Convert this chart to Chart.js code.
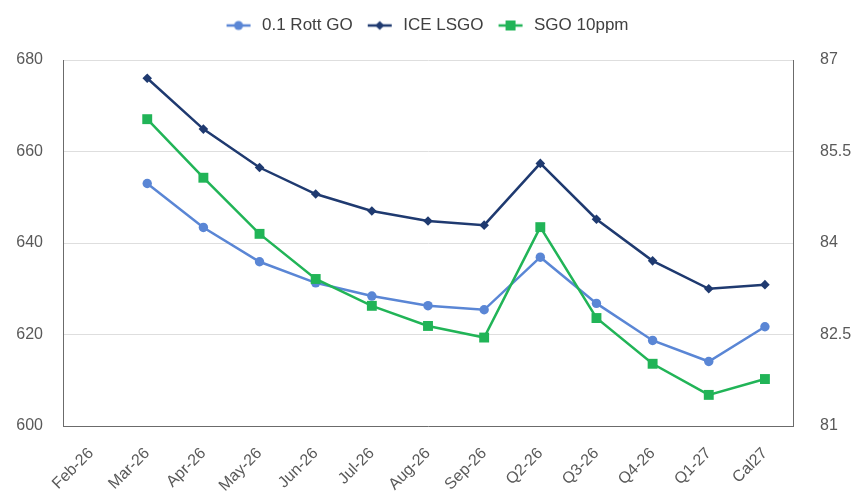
<!DOCTYPE html>
<html>
<head>
<meta charset="utf-8">
<script src="https://cdn.jsdelivr.net/npm/chart.js@4.4.1/dist/chart.umd.min.js"></script>
<style>
  html, body { margin: 0; padding: 0; background: #ffffff; }
  #wrap { width: 852px; height: 491px; position: relative; }
</style>
</head>
<body>
<div id="wrap"><canvas id="c" width="852" height="491"></canvas></div>
<script>
const categories = ['Feb-26','Mar-26','Apr-26','May-26','Jun-26','Jul-26','Aug-26','Sep-26','Q2-26','Q3-26','Q4-26','Q1-27','Cal27'];
const rottGO   = [null, 653.0, 643.4, 635.9, 631.3, 628.4, 626.3, 625.4, 636.9, 626.8, 618.7, 614.1, 621.7];
const iceLSGO  = [null, 676.0, 664.9, 656.5, 650.7, 647.0, 644.8, 643.9, 657.4, 645.2, 636.1, 630.0, 630.9];
const sgo10ppm = [null, 86.03, 85.07, 84.15, 83.41, 82.97, 82.64, 82.45, 84.26, 82.77, 82.02, 81.51, 81.77];
const leftTicks  = [600, 620, 640, 660, 680];
const rightTicks = [81, 82.5, 84, 85.5, 87];

const cRott = '#5A86D5', cIce = '#1F3A70', cSgo = '#21B457';
const textColor = '#595959';
const fontFam = '"Liberation Sans", Arial, sans-serif';

function legendIcon(color, shape) {
  const cv = document.createElement('canvas');
  cv.width = 26; cv.height = 14;
  const g = cv.getContext('2d');
  g.strokeStyle = color; g.lineWidth = 2.5;
  g.beginPath(); g.moveTo(1, 7); g.lineTo(25, 7); g.stroke();
  g.fillStyle = color;
  g.beginPath();
  if (shape === 'circle') { g.arc(13, 7, 4.5, 0, Math.PI * 2); }
  else if (shape === 'diamond') { g.moveTo(13, 2.5); g.lineTo(17.5, 7); g.lineTo(13, 11.5); g.lineTo(8.5, 7); g.closePath(); }
  else { g.rect(8, 2, 10, 10); }
  g.fill();
  return cv;
}
const icons = [legendIcon(cRott, 'circle'), legendIcon(cIce, 'diamond'), legendIcon(cSgo, 'square')];

const legendSpace = {
  id: 'legendSpace',
  beforeInit(chart) {
    const orig = chart.legend.fit;
    chart.legend.fit = function () { orig.bind(chart.legend)(); this.height += 16; };
  }
};

new Chart(document.getElementById('c'), {
  type: 'line',
  data: {
    labels: categories,
    datasets: [
      { label: '0.1 Rott GO', data: rottGO, yAxisID: 'y', borderColor: cRott, backgroundColor: cRott,
        borderWidth: 2.5, pointStyle: 'circle', pointRadius: 4.7, pointBorderWidth: 0, order: 1, tension: 0 },
      { label: 'ICE LSGO', data: iceLSGO, yAxisID: 'y', borderColor: cIce, backgroundColor: cIce,
        borderWidth: 2.5, pointStyle: 'rectRot', pointRadius: 4.8, pointBorderWidth: 0, order: 2, tension: 0 },
      { label: 'SGO 10ppm', data: sgo10ppm, yAxisID: 'y1', borderColor: cSgo, backgroundColor: cSgo,
        borderWidth: 2.5, pointStyle: 'rect', pointRadius: 7, pointBorderWidth: 0, order: 0, tension: 0 }
    ]
  },
  options: {
    responsive: false,
    animation: false,
    devicePixelRatio: 1,
    layout: { padding: { top: 5, left: 0, right: 0, bottom: 0 } },
    plugins: {
      tooltip: { enabled: false },
      legend: {
        position: 'top',
        labels: {
          usePointStyle: true,
          pointStyleWidth: 30,
          color: '#404040',
          font: { family: fontFam, size: 17 },
          padding: 12,
          sort: (a, b) => a.datasetIndex - b.datasetIndex,
          generateLabels(chart) {
            return chart.data.datasets.map((ds, i) => ({
              text: ds.label, fillStyle: ds.borderColor, strokeStyle: ds.borderColor,
              lineWidth: 0, pointStyle: icons[i], datasetIndex: i, hidden: false, fontColor: '#404040'
            }));
          }
        }
      }
    },
    scales: {
      x: {
        offset: true,
        grid: { display: false, drawTicks: false },
        border: { display: true, color: '#6b6b6b', width: 1 },
        ticks: { color: textColor, font: { family: fontFam, size: 16 }, minRotation: 45, maxRotation: 45, padding: 18, autoSkip: false },
        afterFit(s) { s.height = 65; }
      },
      y: {
        position: 'left',
        min: 600, max: 680,
        afterBuildTicks(s) { s.ticks = leftTicks.map(v => ({ value: v })); },
        grid: { color: '#dedede', drawTicks: false },
        border: { display: true, color: '#6b6b6b', width: 1 },
        ticks: { color: textColor, font: { family: fontFam, size: 16 }, padding: 20 },
        afterFit(s) { s.width = 63; }
      },
      y1: {
        position: 'right',
        min: 81, max: 87,
        afterBuildTicks(s) { s.ticks = rightTicks.map(v => ({ value: v })); },
        grid: { display: false, drawTicks: false },
        border: { display: true, color: '#6b6b6b', width: 1 },
        ticks: { color: textColor, font: { family: fontFam, size: 16 }, padding: 27,
                 callback: v => String(v) },
        afterFit(s) { s.width = 59; }
      }
    }
  },
  plugins: [legendSpace]
});
</script>
</body>
</html>
